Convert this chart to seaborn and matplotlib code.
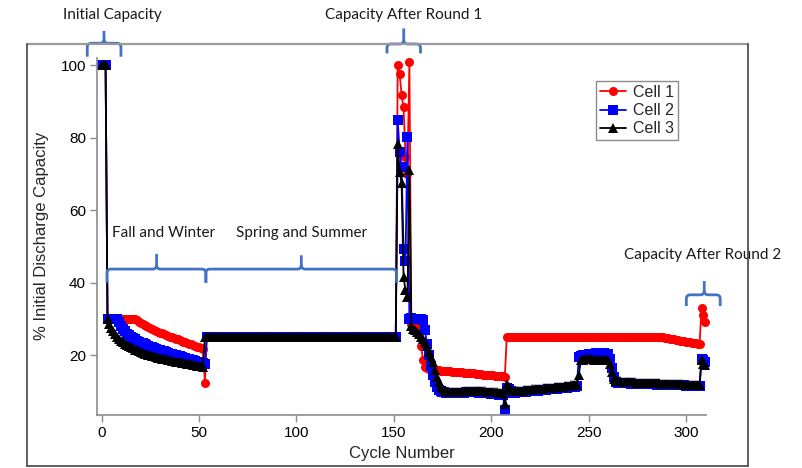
import matplotlib
matplotlib.use("Agg")
import matplotlib.pyplot as plt
from matplotlib.path import Path
from matplotlib.patches import PathPatch
from matplotlib.lines import Line2D
import pandas as pd
import seaborn as sns

# ---------------------------------------------------------------- data
cycle = list(range(0, 311))

# Cell 1
cell1_initial = [100.0, 100.0, 99.9]                                  # cycles 0-2
cell1_fall_winter = [30.0] * 15 + [                                   # cycles 3-52
    29.6, 29.2, 28.9, 28.6, 28.3, 28.0, 27.7, 27.4, 27.2, 26.9,
    26.7, 26.4, 26.2, 26.0, 25.8, 25.5, 25.3, 25.1, 24.9, 24.7,
    24.5, 24.3, 24.1, 23.9, 23.7, 23.5, 23.3, 23.1, 22.9, 22.7,
    22.5, 22.3, 22.1, 21.8, 21.6]
cell1_c53 = [12.3]
cell1_spring_summer = [25.1] * 98                                     # cycles 54-151
cell1_round1 = [100.0, 97.4, 91.7, 88.3, 74.7, 69.9, 100.8]           # cycles 152-158
cell1_after_round1 = [                                                # cycles 159-207
    28.6, 28.4, 28.2, 28.0, 27.7, 22.4, 18.6, 16.8, 16.3, 16.1,
    16.0, 15.9, 15.9, 15.8, 15.8, 15.7, 15.7, 15.6, 15.6, 15.5,
    15.5, 15.4, 15.4, 15.3, 15.3, 15.2, 15.2, 15.1, 15.1, 15.0,
    15.0, 14.9, 14.9, 14.8, 14.8, 14.7, 14.7, 14.6, 14.6, 14.5,
    14.5, 14.4, 14.4, 14.3, 14.3, 14.2, 14.2, 14.1, 14.0]
cell1_round2 = [24.9] * 80 + [                                        # cycles 208-310
    24.9, 24.8, 24.7, 24.6, 24.5, 24.4, 24.3, 24.2, 24.1, 24.0,
    23.9, 23.8, 23.7, 23.6, 23.5, 23.4, 23.3, 23.2, 23.1, 23.1,
    32.9, 31.0, 29.2]

# Cell 2
cell2_initial = [100.0, 100.0, 100.0]
cell2_fall_winter = [30.0] * 6 + [
    29.0, 28.0, 27.2, 26.5, 25.9, 25.4, 25.0, 24.6, 24.3, 24.0,
    23.7, 23.4, 23.2, 22.9, 22.7, 22.5, 22.3, 22.1, 21.9, 21.7,
    21.5, 21.3, 21.1, 21.0, 20.8, 20.6, 20.4, 20.3, 20.1, 19.9,
    19.8, 19.6, 19.4, 19.3, 19.1, 19.0, 18.8, 18.6, 18.5, 18.3,
    18.2, 18.0, 17.8, 17.7]
cell2_c53 = [17.4]
cell2_spring_summer = [25.0] * 98
cell2_round1 = [84.8, 76.1, 72.0, 49.2, 46.0, 80.2, 30.0]
cell2_after_round1 = [
    30.1, 29.9, 30.0, 29.9, 29.8, 29.8, 29.6,
    27.0, 23.0, 20.0, 17.0, 14.5, 12.5, 11.2, 10.4, 10.0, 9.8,
    9.7, 9.6, 9.6, 9.6, 9.5, 9.5, 9.5, 9.5, 9.5, 9.6,
    9.6, 9.7, 9.7, 9.8, 9.8, 9.8, 9.7, 9.7, 9.6, 9.6,
    9.5, 9.5, 9.4, 9.4, 9.3, 9.3, 9.2, 9.2, 9.1, 9.0,
    9.0, 4.8]
cell2_round2 = [
    11.0, 10.6, 10.2,
    9.6, 9.6, 9.7, 9.7, 9.8, 9.8, 9.9, 9.9, 10.0, 10.0,
    10.1, 10.1, 10.2, 10.2, 10.3, 10.3, 10.4, 10.4, 10.5, 10.5,
    10.6, 10.6, 10.7, 10.7, 10.8, 10.8, 10.9, 10.9, 11.0, 11.1,
    11.2, 11.2, 11.3, 11.4,
    19.5, 19.7, 19.9, 20.0, 20.1, 20.2, 20.3, 20.4, 20.4, 20.5,
    20.5, 20.5, 20.5, 20.5, 20.4, 20.4,
    19.0, 16.5, 14.0, 12.6,
    12.3, 12.3, 12.3, 12.2, 12.2, 12.2, 12.2, 12.1, 12.1, 12.1,
    12.1, 12.0, 12.0, 12.0, 12.0, 12.0, 11.9, 11.9, 11.9, 11.9,
    11.8, 11.8, 11.8, 11.8, 11.8, 11.7, 11.7, 11.7, 11.7, 11.7,
    11.6, 11.6, 11.6, 11.6, 11.6, 11.5, 11.5, 11.5, 11.5, 11.5,
    11.5, 11.4, 11.4,
    19.0, 18.6, 18.2]

# Cell 3
cell3_initial = [100.0, 100.0, 100.0]
cell3_fall_winter = [
    30.0, 28.5, 27.5, 26.6, 25.8, 25.1, 24.5, 24.0, 23.5, 23.1,
    22.7, 22.4, 22.1, 21.8, 21.5, 21.3, 21.0, 20.8, 20.6, 20.4,
    20.2, 20.0, 19.9, 19.7, 19.6, 19.4, 19.3, 19.2, 19.0, 18.9,
    18.8, 18.7, 18.6, 18.4, 18.3, 18.2, 18.1, 18.0, 17.9, 17.8,
    17.7, 17.6, 17.5, 17.4, 17.3, 17.2, 17.1, 17.0, 16.9, 16.8]
cell3_c53 = [25.0]
cell3_spring_summer = [25.0] * 98
cell3_round1 = [78.3, 70.6, 67.4, 41.6, 37.9, 35.9, 71.0]
cell3_after_round1 = [
    28.0, 27.3, 26.8, 26.4, 25.8, 25.1, 24.3, 23.5, 22.4, 20.9,
    19.5, 18.0, 16.0, 14.0, 12.6, 11.5, 10.8, 10.3, 10.0, 9.9,
    9.8, 9.8, 9.8, 9.8, 9.8, 9.9, 9.9, 10.0, 10.0, 10.1,
    10.1, 10.2, 10.2, 10.2, 10.2, 10.1, 10.1, 10.0, 10.0, 9.9,
    9.9, 9.8, 9.8, 9.7, 9.7, 9.6, 9.6, 9.5,
    6.5]
cell3_round2 = [
    12.0, 11.3, 10.5,
    10.0, 10.0, 10.1, 10.1, 10.2, 10.2, 10.3, 10.3, 10.4, 10.4,
    10.5, 10.5, 10.6, 10.6, 10.7, 10.7, 10.8, 10.8, 10.9, 10.9,
    11.0, 11.0, 11.1, 11.1, 11.2, 11.2, 11.3, 11.4, 11.5, 11.5,
    11.6, 11.6, 11.7, 11.7,
    14.5, 18.6, 18.7, 18.8, 18.8, 18.8, 18.8, 18.8, 18.7, 18.7,
    18.7, 18.6, 18.6, 18.6, 18.5, 18.5,
    17.5, 15.4, 13.5, 12.9,
    12.7, 12.7, 12.6, 12.6, 12.6, 12.6, 12.5, 12.5, 12.5, 12.5,
    12.4, 12.4, 12.4, 12.4, 12.3, 12.3, 12.3, 12.3, 12.2, 12.2,
    12.2, 12.2, 12.1, 12.1, 12.1, 12.1, 12.0, 12.0, 12.0, 12.0,
    11.9, 11.9, 11.9, 11.9, 11.8, 11.8, 11.8, 11.8, 11.7, 11.7,
    11.7, 11.7, 11.7,
    18.6, 17.4, 17.2]

cell1 = (cell1_initial + cell1_fall_winter + cell1_c53 + cell1_spring_summer
         + cell1_round1 + cell1_after_round1 + cell1_round2)
cell2 = (cell2_initial + cell2_fall_winter + cell2_c53 + cell2_spring_summer
         + cell2_round1 + cell2_after_round1 + cell2_round2)
cell3 = (cell3_initial + cell3_fall_winter + cell3_c53 + cell3_spring_summer
         + cell3_round1 + cell3_after_round1 + cell3_round2)

cell_names = ["Cell 1", "Cell 2", "Cell 3"]
x_ticks = [0, 50, 100, 150, 200, 250, 300]
y_ticks = [20, 40, 60, 80, 100]

df = pd.concat([
    pd.DataFrame({"Cycle": cycle, "Capacity": vals, "Cell": name})
    for name, vals in zip(cell_names, [cell1, cell2, cell3])
], ignore_index=True)

# ---------------------------------------------------------------- figure
sns.set_theme(style="ticks")
plt.rcParams["font.family"] = ["Liberation Sans", "DejaVu Sans"]

W, H = 803, 468
fig = plt.figure(figsize=(W / 100, H / 100), dpi=100)
ax = fig.add_axes([97 / W, 1 - 415 / H, (706 - 97) / W, (415 - 57.75) / H])

sns.lineplot(
    data=df, x="Cycle", y="Capacity", hue="Cell", style="Cell",
    palette={"Cell 1": "#ff0000", "Cell 2": "#0000ff", "Cell 3": "#000000"},
    markers={"Cell 1": "o", "Cell 2": "s", "Cell 3": "^"},
    dashes=False, estimator=None, sort=False,
    linewidth=1.3, markersize=6.5, markeredgewidth=0,
    ax=ax, clip_on=False,
)

ax.set_xlim(-2.4, 310.3)
ax.set_ylim(3.45, 102.0)
ax.set_xticks(x_ticks)
ax.set_yticks(y_ticks)
ax.set_xlabel("Cycle Number", fontsize=12, labelpad=4)
ax.set_ylabel("% Initial Discharge Capacity", fontsize=12, labelpad=8)
ax.tick_params(axis="both", labelsize=11, length=5, width=1,
               color="#8c8c8c", labelcolor="black", pad=3)
for side in ("top", "right"):
    ax.spines[side].set_visible(False)
for side in ("left", "bottom"):
    ax.spines[side].set_color("#8c8c8c")
    ax.spines[side].set_linewidth(1.2)

handles, labels = ax.get_legend_handles_labels()
leg = ax.legend(handles, labels, loc="upper left",
                bbox_to_anchor=(596 / W, 1 - 81 / H), bbox_transform=fig.transFigure,
                fontsize=11.5, frameon=True, fancybox=False, framealpha=1,
                edgecolor="#8c8c8c", borderpad=0.25, labelspacing=0.2,
                handlelength=1.6, handletextpad=0.45, borderaxespad=0)
leg.get_frame().set_linewidth(1.0)

# ---------------------------------------------------------------- braces and notes
BRACE = "#4472c4"
PX_X = 1.95      # pixels per cycle
PX_Y = 3.625     # pixels per percent


def brace(x0, x1, xc, y_end, y_bar, y_tip, r=4.0):
    rx, ry = r / PX_X, r / PX_Y
    left = Path(
        [(x0, y_end), (x0, y_bar - ry), (x0, y_bar), (x0 + rx, y_bar),
         (xc - rx, y_bar), (xc, y_bar), (xc, y_bar + ry), (xc, y_tip)],
        [Path.MOVETO, Path.LINETO, Path.CURVE3, Path.CURVE3,
         Path.LINETO, Path.CURVE3, Path.CURVE3, Path.LINETO])
    right = Path(
        [(xc, y_bar + ry), (xc, y_bar), (xc + rx, y_bar),
         (x1 - rx, y_bar), (x1, y_bar), (x1, y_bar - ry), (x1, y_end)],
        [Path.MOVETO, Path.CURVE3, Path.CURVE3,
         Path.LINETO, Path.CURVE3, Path.CURVE3, Path.LINETO])
    for p in (left, right):
        ax.add_patch(PathPatch(p, facecolor="none", edgecolor=BRACE, lw=2.0,
                               clip_on=False, capstyle="butt", zorder=5))


brace(-7.4, 9.9, 1.2, 102.3, 106.0, 109.4)          # initial capacity
brace(146.5, 163.7, 155.1, 103.2, 105.8, 110.1)     # after round 1
brace(2.7, 53.5, 28.2, 39.9, 43.7, 47.9)            # fall and winter
brace(53.5, 151.4, 102.5, 39.9, 43.7, 47.5)         # spring and summer
brace(300.2, 317.6, 309.4, 33.5, 36.6, 40.4)        # after round 2

note_style = dict(fontsize=11, color="#1a1a1a", ha="center", va="center",
                  family=["Lato", "DejaVu Sans"], clip_on=False)
ax.text(5.5, 113.8, "Initial Capacity", **note_style)
ax.text(155.0, 113.8, "Capacity After Round 1", **note_style)
ax.text(32.0, 53.7, "Fall and Winter", **note_style)
ax.text(102.5, 53.7, "Spring and Summer", **note_style)
ax.text(308.4, 47.6, "Capacity After Round 2", **note_style)

# outer frame
fx0, fx1 = 27 / W, 748 / W
fy0, fy1 = 1 - 466 / H, 1 - 44 / H
fig.add_artist(Line2D([fx0, fx1], [fy1, fy1], color="#9a9a9a", lw=1.6))
fig.add_artist(Line2D([fx0, fx0], [fy0, fy1], color="#444444", lw=1.2))
fig.add_artist(Line2D([fx1, fx1], [fy0, fy1], color="#444444", lw=1.2))
fig.add_artist(Line2D([fx0, fx1], [fy0, fy0], color="#444444", lw=1.2))

fig.savefig("out.png", dpi=100, facecolor="white")
